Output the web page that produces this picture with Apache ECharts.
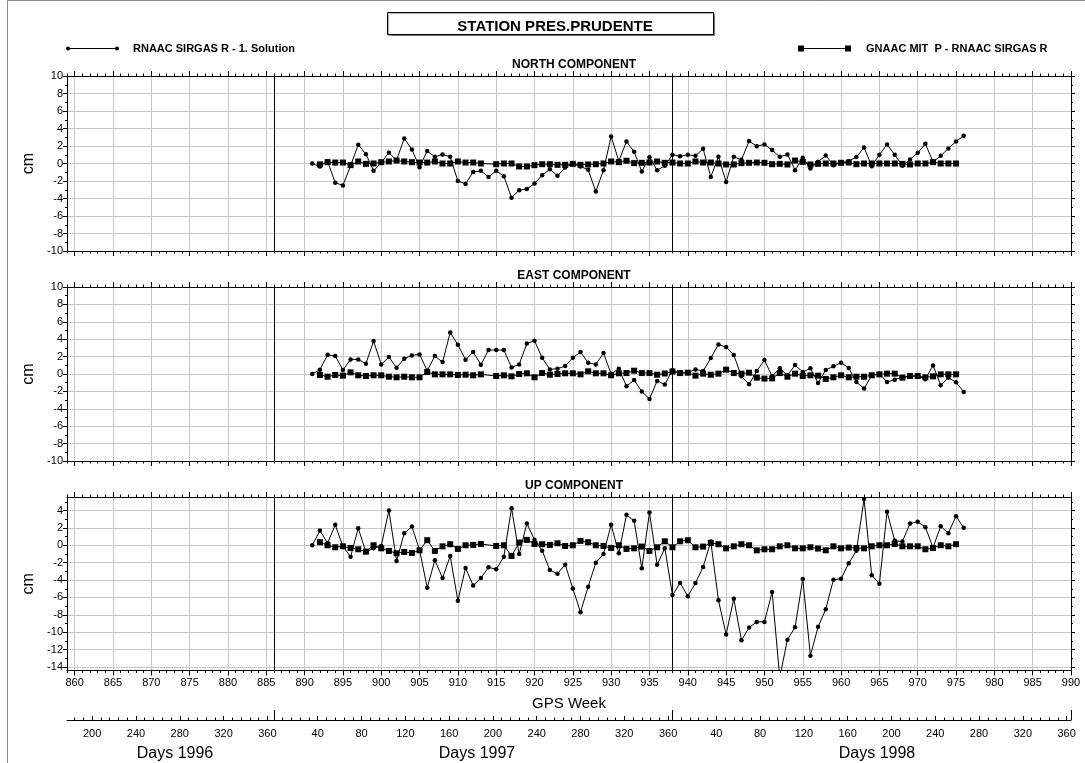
<!DOCTYPE html>
<html>
<head>
<meta charset="utf-8">
<title>STATION PRES.PRUDENTE</title>
<script src="https://cdn.jsdelivr.net/npm/echarts@6/dist/echarts.min.js"></script>
<style>
  html, body { margin: 0; padding: 0; background: #fff; }
  #chart { width: 1085px; height: 763px; }
</style>
</head>
<body>
<div id="chart"></div>
<script>
// Weekly station coordinate differences (cm), PRES.PRUDENTE
const firstWeekSolution = 891;   // RNAAC SIRGAS R - 1. Solution starts here
const firstWeekMit = 892;        // GNAAC MIT P - RNAAC SIRGAS R starts here

const northSolution = [0, -0.34, 0.25, -2.2, -2.5, -0.27, 2.15, 1.07, -0.84, 0.1,
  1.24, 0.38, 2.86, 1.6, -0.42, 1.43, 0.76, 1.03, 0.76, -2.0,
  -2.33, -0.96, -0.84, -1.53, -0.84, -1.45, -3.9, -3.05, -2.9, -2.29,
  -1.34, -0.65, -1.41, -0.46, -0.04, -0.34, -0.72, -3.2, -0.76, 3.1,
  0.27, 2.52, 1.34, -0.92, 0.72, -0.76, -0.27, 1.0, 0.84, 1.0,
  0.88, 1.68, -1.53, 0.76, -2.1, 0.76, 0.42, 2.56, 1.98, 2.18,
  1.53, 0.76, 1.03, -0.76, 0.65, -0.57, 0.19, 0.92, -0.19, 0.08,
  0.27, 0.73, 1.83, -0.31, 1.0, 2.18, 1.0, -0.27, 0.46, 1.22,
  2.25, 0.19, 0.88, 1.72, 2.52, 3.17];
const northMit = [-0.1, 0.15, 0.11, 0.11, -0.19, 0.23, -0.04, 0, 0.15, 0.23,
  0.34, 0.23, 0.15, 0.11, 0.11, 0.23, 0, 0, 0.23, 0.11,
  0.11, 0, null, -0.08, 0, 0, -0.34, -0.34, -0.19, -0.08,
  -0.08, -0.15, -0.15, -0.04, -0.15, -0.11, -0.08, 0, 0.23, 0.15,
  0.31, 0.04, 0.08, 0.11, 0.23, 0.08, 0.11, 0, 0, 0.23,
  0.11, 0.11, 0, -0.11, -0.11, 0.04, 0.08, 0.11, 0.08, -0.08,
  -0.04, -0.11, 0.34, 0.19, -0.11, -0.04, 0, 0, 0.08, 0.11,
  -0.08, 0, 0, 0, 0, 0, -0.04, -0.11, 0, 0,
  0.15, 0, 0, 0];

const eastSolution = [0, 0.5, 2.2, 2.06, 0.46, 1.68, 1.68, 1.18, 3.78, 1.1,
  1.95, 0.73, 1.76, 2.14, 2.25, 0.38, 2.06, 1.37, 4.77, 3.36,
  1.64, 2.52, 1.07, 2.75, 2.75, 2.75, 0.76, 1.1, 3.51, 3.82,
  1.87, 0.53, 0.61, 0.92, 1.87, 2.52, 1.3, 1.1, 2.4, 0,
  0.61, -1.41, -0.69, -2.02, -2.86, -0.8, -1.2, 0.42, 0.11, 0.15,
  0.53, 0.34, 1.83, 3.4, 3.09, 2.18, -0.27, -1.18, 0.34, 1.6,
  -0.27, 0.65, -0.15, 1.03, 0.23, 0.65, -1.03, 0.46, 0.88, 1.3,
  0.69, -0.92, -1.68, -0.15, 0.04, -0.92, -0.65, -0.34, -0.27, -0.23,
  -0.61, 0.99, -1.3, -0.42, -0.95, -2.06];
const eastMit = [-0.11, -0.31, -0.11, -0.19, 0.19, -0.15, -0.23, -0.15, -0.15, -0.31,
  -0.38, -0.31, -0.38, -0.38, 0.23, -0.04, -0.04, -0.04, -0.11, -0.08,
  -0.15, -0.04, null, -0.23, -0.15, -0.27, 0, 0.08, -0.38, 0.11,
  -0.08, 0, 0.08, 0.08, -0.04, 0.31, 0.08, 0.08, -0.15, 0.08,
  0.11, 0.38, 0.11, 0.11, -0.08, 0.06, 0.27, 0.11, 0.15, -0.19,
  0.04, -0.08, 0.04, 0.5, 0.11, 0.04, 0.15, -0.42, -0.53, -0.5,
  0.11, -0.31, 0.04, -0.23, -0.15, -0.19, -0.57, -0.38, -0.15, -0.38,
  -0.31, -0.31, -0.15, -0.04, 0.04, 0.04, -0.42, -0.23, -0.23, -0.38,
  -0.27, -0.04, -0.04, -0.04];

const upSolution = [0, 1.69, 0.23, 2.35, -0.15, -1.31, 1.96, -0.77, -0.35, -0.08,
  4.0, -1.81, 1.38, 2.15, -0.54, -4.88, -1.73, -3.77, -1.23, -6.38,
  -2.62, -4.62, -3.77, -2.54, -2.77, -1.31, 4.27, -1.0, 2.5, 0.62,
  -0.62, -2.85, -3.27, -2.23, -4.96, -7.69, -4.77, -2.0, -1.0, 2.35,
  -0.92, 3.5, 2.81, -2.65, 3.77, -2.23, -0.35, -5.73, -4.35, -5.85,
  -4.35, -2.5, 0.42, -6.31, -10.27, -6.15, -10.92, -9.46, -8.81, -8.81,
  -5.38, -15.2, -10.85, -9.42, -3.88, -12.69, -9.38, -7.35, -3.96, -3.85,
  -2.08, -0.62, 5.31, -3.46, -4.42, 3.85, 0.54, 0.42, 2.5, 2.69,
  2.08, -0.27, 2.19, 1.38, 3.35, 2.0];
const upMit = [0.35, 0, -0.23, -0.12, -0.31, -0.46, -0.73, 0, -0.35, -0.65,
  -0.92, -0.77, -0.88, -0.58, 0.58, -0.65, -0.12, 0.12, -0.42, 0,
  0.04, 0.15, null, -0.08, 0, -1.23, 0.31, 0.62, 0.15, 0.12,
  0.04, 0.23, -0.08, 0, 0.5, 0.35, 0, -0.08, -0.31, 0,
  -0.42, -0.35, -0.15, -0.65, -0.23, 0.46, -0.23, 0.46, 0.58, -0.23,
  -0.15, 0.27, 0.12, -0.35, -0.12, 0.12, 0, -0.58, -0.46, -0.46,
  -0.12, 0, -0.35, -0.35, -0.23, -0.38, -0.58, -0.12, -0.35, -0.27,
  -0.31, -0.35, -0.12, 0, 0, 0.15, -0.12, -0.12, -0.12, -0.46,
  -0.31, 0, -0.12, 0.12];

// Axis ranges and tick labels
const weekMin = 859, weekMax = 990;
const weekLabels = [860, 865, 870, 875, 880, 885, 890, 895, 900, 905, 910, 915, 920, 925,
  930, 935, 940, 945, 950, 955, 960, 965, 970, 975, 980, 985, 990];
const yearStartWeeks = [886, 938];          // vertical year separators
const cmTicksNE = [-10, -8, -6, -4, -2, 0, 2, 4, 6, 8, 10];
const cmTicksUp = [-14, -12, -10, -8, -6, -4, -2, 0, 2, 4];
const upRange = [-14.4, 5.55];
const dayLabels1996 = [200, 240, 280, 320, 360];
const dayLabels1997 = [40, 80, 120, 160, 200, 240, 280, 320, 360];
const dayLabels1998 = [40, 80, 120, 160, 200, 240, 280, 320, 360];

const panelTitles = ['NORTH COMPONENT', 'EAST COMPONENT', 'UP COMPONENT'];
const seriesNames = ['RNAAC SIRGAS R - 1. Solution', 'GNAAC MIT  P - RNAAC SIRGAS R'];

const FONT = "'Liberation Sans', Arial, sans-serif";

// ---- helpers -------------------------------------------------------------
function toPairs(first, values) {
  return values.map((v, i) => [first + i, v]);
}
function range(a, b, step) {
  const out = [];
  for (let v = a; v <= b + 1e-9; v += step) out.push(+v.toFixed(6));
  return out;
}
// day-of-year -> position on the GPS-week scale
const y1996Start = 886 - 366 / 7;
function dayToWeek(year, day) {
  if (year === 1996) return y1996Start + day / 7;
  if (year === 1997) return 886 + day / 7;
  return 938 + day / 7;
}
function weekToDayLabel(w) {
  if (w < 885.999) return String(Math.round((w - y1996Start) * 7));
  if (w < 937.999) return String(Math.round((w - 886) * 7));
  return String(Math.round((w - 938) * 7));
}

const allWeeks = range(weekMin, weekMax, 1);

// ---- layout ---------------------------------------------------------------
const plotLeft = 67, plotWidth = 1004;
const panels = [
  { top: 76, height: 175, min: -10, max: 10, ticks: cmTicksNE,
    sol: northSolution, mit: northMit },
  { top: 287, height: 174, min: -10, max: 10, ticks: cmTicksNE,
    sol: eastSolution, mit: eastMit },
  { top: 497, height: 173.5, min: upRange[0], max: upRange[1], ticks: cmTicksUp,
    sol: upSolution, mit: upMit }
];

const grid = [], xAxis = [], yAxis = [], series = [], title = [];
const axisColor = '#000';
const gridLineColor = '#c8c8c8';
const labelStyle = { color: '#000', fontFamily: FONT, fontSize: 11 };

panels.forEach((p, i) => {
  grid.push({ left: plotLeft, width: plotWidth, top: p.top, height: p.height });
  const isLast = i === panels.length - 1;
  const base = { gridIndex: i, type: 'value', min: weekMin, max: weekMax };
  // bottom: 5-week ticks, grid lines, labels on last panel
  xAxis.push(Object.assign({}, base, {
    position: 'bottom',
    axisLine: { show: true, onZero: false, lineStyle: { color: axisColor, width: 1 } },
    axisTick: { show: true, length: 5, customValues: weekLabels, lineStyle: { color: axisColor } },
    axisLabel: { show: isLast, customValues: weekLabels, margin: 7, ...labelStyle },
    splitLine: { show: true, lineStyle: { color: gridLineColor, width: 1 } },
    name: isLast ? 'GPS Week' : '',
    nameLocation: 'middle', nameGap: 26,
    nameTextStyle: { color: '#000', fontFamily: FONT, fontSize: 15 }
  }));
  // bottom: weekly minor ticks
  xAxis.push(Object.assign({}, base, {
    position: 'bottom',
    axisLine: { show: false, onZero: false },
    axisTick: { show: true, length: 2.5, customValues: allWeeks, lineStyle: { color: axisColor } },
    axisLabel: { show: false }, splitLine: { show: false }
  }));
  // top: 5-week ticks
  xAxis.push(Object.assign({}, base, {
    position: 'top',
    axisLine: { show: true, onZero: false, lineStyle: { color: axisColor, width: 1 } },
    axisTick: { show: true, length: 5, customValues: weekLabels, lineStyle: { color: axisColor } },
    axisLabel: { show: false }, splitLine: { show: false }
  }));
  // top: weekly minor ticks
  xAxis.push(Object.assign({}, base, {
    position: 'top',
    axisLine: { show: false, onZero: false },
    axisTick: { show: true, length: 2.5, customValues: allWeeks, lineStyle: { color: axisColor } },
    axisLabel: { show: false }, splitLine: { show: false }
  }));

  const minorCm = range(Math.ceil(p.min), Math.floor(p.max), 1).filter(v => p.ticks.indexOf(v) < 0);
  const ybase = { gridIndex: i, type: 'value', min: p.min, max: p.max };
  yAxis.push(Object.assign({}, ybase, {
    position: 'left',
    axisLine: { show: true, onZero: false, lineStyle: { color: axisColor, width: 1 } },
    axisTick: { show: true, length: 4, customValues: p.ticks, lineStyle: { color: axisColor } },
    axisLabel: { show: true, customValues: p.ticks, margin: 4, ...labelStyle },
    splitLine: { show: true, lineStyle: { color: gridLineColor, width: 1 } },
    name: 'cm', nameLocation: 'middle', nameRotate: 90, nameGap: 27,
    nameTextStyle: { color: '#000', fontFamily: FONT, fontSize: 16 }
  }));
  yAxis.push(Object.assign({}, ybase, {
    position: 'left',
    axisLine: { show: false, onZero: false },
    axisTick: { show: true, length: 2, customValues: minorCm, lineStyle: { color: axisColor } },
    axisLabel: { show: false }, splitLine: { show: false }
  }));
  yAxis.push(Object.assign({}, ybase, {
    position: 'right',
    axisLine: { show: true, onZero: false, lineStyle: { color: axisColor, width: 1 } },
    axisTick: { show: true, length: 4, customValues: p.ticks, lineStyle: { color: axisColor } },
    axisLabel: { show: false }, splitLine: { show: false }
  }));
  yAxis.push(Object.assign({}, ybase, {
    position: 'right',
    axisLine: { show: false, onZero: false },
    axisTick: { show: true, length: 2, customValues: minorCm, lineStyle: { color: axisColor } },
    axisLabel: { show: false }, splitLine: { show: false }
  }));

  series.push({
    name: seriesNames[0], type: 'line', xAxisIndex: 4 * i, yAxisIndex: 4 * i,
    data: toPairs(firstWeekSolution, p.sol),
    symbol: 'circle', symbolSize: 4.5, showSymbol: true,
    lineStyle: { color: '#000', width: 1 },
    itemStyle: { color: '#000' },
    animation: false, silent: true, z: 3,
    markLine: {
      silent: true, symbol: 'none', animation: false,
      label: { show: false },
      lineStyle: { color: '#000', width: 1, type: 'solid' },
      data: yearStartWeeks.map(w => ({ xAxis: w }))
    }
  });
  series.push({
    name: seriesNames[1], type: 'line', xAxisIndex: 4 * i, yAxisIndex: 4 * i,
    data: toPairs(firstWeekMit, p.mit), connectNulls: true,
    symbol: 'rect', symbolSize: 6, showSymbol: true,
    lineStyle: { color: '#000', width: 1 },
    itemStyle: { color: '#000' },
    animation: false, silent: true, z: 4
  });

  title.push({
    text: panelTitles[i], left: plotLeft + plotWidth / 2, top: p.top - 22,
    textAlign: 'center',
    textStyle: { color: '#000', fontFamily: FONT, fontSize: 12, fontWeight: 'bold' }
  });
});

// ---- day-of-year axis below the plots -----------------------------------------
const dayGridIndex = panels.length;
grid.push({ left: plotLeft, width: plotWidth, top: 700, height: 20 });
const dayLabelPos = []
  .concat(dayLabels1996.map(d => dayToWeek(1996, d)))
  .concat(dayLabels1997.map(d => dayToWeek(1997, d)))
  .concat(dayLabels1998.map(d => dayToWeek(1998, d)));
const dayMinorPos = []
  .concat(range(184, 360, 8).map(d => dayToWeek(1996, d)))
  .concat(range(0, 360, 8).map(d => dayToWeek(1997, d)))
  .concat(range(0, 360, 8).map(d => dayToWeek(1998, d)));
const dbase = { gridIndex: dayGridIndex, type: 'value', min: weekMin, max: weekMax, position: 'bottom', splitLine: { show: false } };
xAxis.push(Object.assign({}, dbase, {
  axisLine: { show: true, onZero: false, lineStyle: { color: axisColor, width: 1 } },
  axisTick: { show: true, inside: true, length: 2.5, customValues: dayMinorPos, lineStyle: { color: axisColor } },
  axisLabel: { show: true, customValues: dayLabelPos, margin: 8, formatter: weekToDayLabel, ...labelStyle }
}));
xAxis.push(Object.assign({}, dbase, {
  axisLine: { show: false, onZero: false },
  axisTick: { show: true, inside: true, length: 4, customValues: dayLabelPos, lineStyle: { color: axisColor } },
  axisLabel: { show: false }
}));
xAxis.push(Object.assign({}, dbase, {
  axisLine: { show: false, onZero: false },
  axisTick: { show: true, inside: true, length: 10, customValues: yearStartWeeks.concat([weekMax]), lineStyle: { color: axisColor } },
  axisLabel: { show: false }
}));
yAxis.push({ gridIndex: dayGridIndex, type: 'value', show: false });

const yearTitles = [
  { text: 'Days 1996', x: 170 },
  { text: 'Days 1997', x: 472 },
  { text: 'Days 1998', x: 872 }
];
yearTitles.forEach(t => title.push({
  text: t.text, left: t.x, top: 741, textAlign: 'center',
  textStyle: { color: '#000', fontFamily: FONT, fontSize: 16, fontWeight: 'normal' }
}));

// main heading
title.push({
  text: 'STATION PRES.PRUDENTE', left: 550, top: 14, textAlign: 'center',
  textStyle: { color: '#000', fontFamily: FONT, fontSize: 15, fontWeight: 'bold' }
});

// ---- frame, heading box and key ----------------------------------------------
const graphic = [
  { type: 'rect', shape: { x: 7.5, y: 0.5, width: 1090, height: 770 },
    style: { fill: 'none', stroke: '#888', lineWidth: 1 }, z: 0 },
  { type: 'rect', shape: { x: 387.5, y: 12.5, width: 326, height: 22 },
    style: { fill: '#fff', stroke: '#000', lineWidth: 1, shadowColor: 'rgba(0,0,0,0.35)', shadowOffsetX: 1, shadowOffsetY: 1, shadowBlur: 1 }, z: 1 },
  // key: solution
  { type: 'line', shape: { x1: 68, y1: 48.5, x2: 117, y2: 48.5 }, style: { stroke: '#000', lineWidth: 1 } },
  { type: 'circle', shape: { cx: 68, cy: 48.5, r: 2 }, style: { fill: '#000' } },
  { type: 'circle', shape: { cx: 117, cy: 48.5, r: 2 }, style: { fill: '#000' } },
  { type: 'text', x: 133, y: 48.5,
    style: { text: seriesNames[0], fill: '#000', font: 'bold 11px ' + FONT, textVerticalAlign: 'middle', verticalAlign: 'middle' } },
  // key: difference
  { type: 'line', shape: { x1: 801, y1: 48.5, x2: 848, y2: 48.5 }, style: { stroke: '#000', lineWidth: 1 } },
  { type: 'rect', shape: { x: 798, y: 45.5, width: 6, height: 6 }, style: { fill: '#000' } },
  { type: 'rect', shape: { x: 845, y: 45.5, width: 6, height: 6 }, style: { fill: '#000' } },
  { type: 'text', x: 866, y: 48.5,
    style: { text: seriesNames[1], fill: '#000', font: 'bold 11px ' + FONT, textVerticalAlign: 'middle', verticalAlign: 'middle' } }
];

const chart = echarts.init(document.getElementById('chart'), null, { renderer: 'canvas' });
chart.setOption({
  backgroundColor: '#fff',
  animation: false,
  title, grid, xAxis, yAxis, series, graphic
});
</script>
</body>
</html>
